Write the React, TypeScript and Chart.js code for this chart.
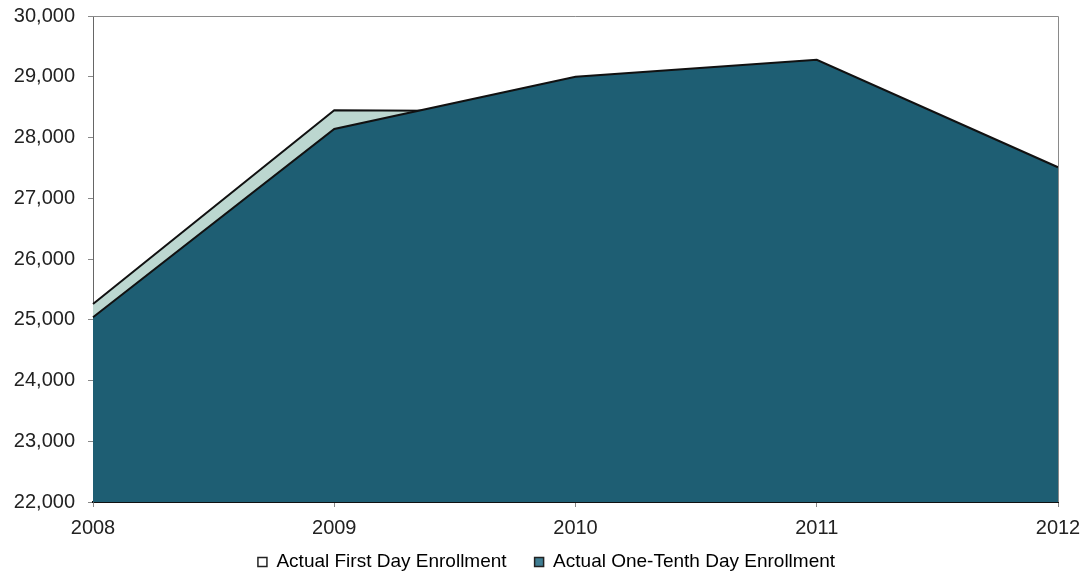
import React, { useEffect, useRef } from "react";
import { Chart, registerables } from "chart.js";

Chart.register(...registerables);

const years = ["2008", "2009", "2010", "2011", "2012"];
const firstDay = [25260, 28450, 28430, 29000, 27450];
const oneTenthDay = [25040, 28140, 29000, 29280, 27510];
const seriesNames = ["Actual First Day Enrollment", "Actual One-Tenth Day Enrollment"];
const yMin = 22000;
const yMax = 30000;
const yStep = 1000;

const frame = {
  id: "frame",
  afterLayout(chart: any) {
    const lg = chart.legend;
    if (lg) {
      lg.left += 17.5;
      lg.right += 17.5;
      lg.top -= 17.5;
      lg.bottom -= 17.5;
    }
  },
  afterDatasetsDraw(chart: any) {
    const { ctx, chartArea } = chart;
    ctx.save();
    ctx.strokeStyle = "#8a8a8a";
    ctx.lineWidth = 1;
    ctx.beginPath();
    ctx.moveTo(chartArea.left, chartArea.top + 0.5);
    ctx.lineTo(chartArea.right + 0.5, chartArea.top + 0.5);
    ctx.lineTo(chartArea.right + 0.5, chartArea.bottom);
    ctx.stroke();
    ctx.restore();
  },
};

export default function App() {
  const ref = useRef<HTMLCanvasElement | null>(null);
  useEffect(() => {
    if (!ref.current) return;
    const font = "Arial, 'Liberation Sans', sans-serif";
    const chart = new Chart(ref.current, {
      type: "line",
      data: {
        labels: years,
        datasets: [
          {
            label: seriesNames[0],
            data: firstDay,
            fill: "start",
            backgroundColor: "#bcd7d0",
            borderColor: "#111",
            borderWidth: 2,
            pointRadius: 0,
            tension: 0,
            order: 2,
          },
          {
            label: seriesNames[1],
            data: oneTenthDay,
            fill: "start",
            backgroundColor: "#1e5e73",
            borderColor: "#111",
            borderWidth: 2,
            pointRadius: 0,
            tension: 0,
            order: 1,
          },
        ],
      },
      options: {
        responsive: false,
        animation: false,
        layout: { padding: { top: 16, right: 24, left: 0, bottom: -27 } },
        plugins: {
          tooltip: { enabled: false },
          legend: {
            position: "bottom",
            labels: {
              font: { family: font, size: 19 },
              color: "#222",
              boxWidth: 9,
              boxHeight: 9,
              padding: 28,
              sort: (a: any, b: any) => a.datasetIndex - b.datasetIndex,
              generateLabels: (c: any) =>
                c.data.datasets.map((d: any, i: number) => ({
                  text: d.label,
                  fillStyle: i === 0 ? "#ffffff" : "#3f7d92",
                  strokeStyle: "#222",
                  lineWidth: 1.5,
                  datasetIndex: i,
                  hidden: false,
                })),
            },
          },
        },
        scales: {
          x: {
            type: "category",
            offset: false,
            afterFit: (s: any) => {
              s.height = 40;
              s.paddingLeft = 0;
              s.paddingRight = 0;
            },
            grid: {
              drawOnChartArea: false,
              drawTicks: true,
              tickLength: 5,
              color: "#888",
            },
            border: { color: "#111", width: 2 },
            ticks: {
              font: { family: font, size: 20 },
              color: "#222",
              padding: 9,
              maxRotation: 0,
            },
          },
          y: {
            min: yMin,
            max: yMax,
            afterFit: (s: any) => {
              s.width = 93;
              s.paddingTop = 0;
              s.paddingBottom = 0;
            },
            grid: {
              drawOnChartArea: false,
              drawTicks: true,
              tickLength: 5,
              color: "#888",
            },
            border: { color: "#666", width: 1 },
            ticks: {
              stepSize: yStep,
              font: { family: font, size: 20 },
              color: "#222",
              padding: 13,
              callback: (v: any) => Number(v).toLocaleString("en-US"),
            },
          },
        },
      },
      plugins: [frame],
    });
    return () => chart.destroy();
  }, []);
  return (
    <div style={{ position: "absolute", left: 0, top: 0, width: 1082, height: 572, background: "#fff" }}>
      <canvas ref={ref} width={1082} height={572} style={{ display: "block" }} />
    </div>
  );
}
